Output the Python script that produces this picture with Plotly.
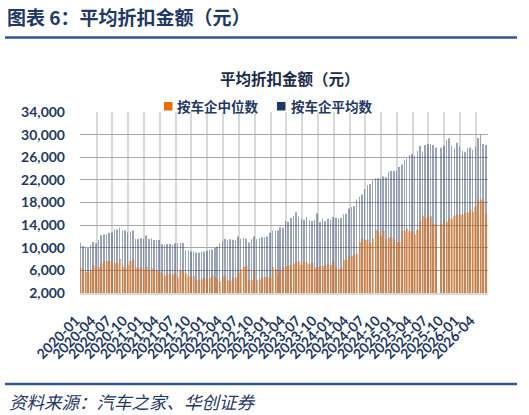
import datetime as dt
import plotly.graph_objects as go

# ---------------- data ----------------
dates = []
for yr in range(2020, 2027):
    for mo in range(1, 13):
        for dd in (1, 16):
            d = dt.date(yr, mo, dd)
            if d <= dt.date(2026, 6, 1):
                dates.append(d.isoformat())

median_vals = [
    6480, 6200, 5760, 5600, 6100, 6950, 6480, 6600, 7200, 7670,
    7670, 7610, 7200, 7310, 7200, 8030, 6700, 6480, 6950, 7670,
    7850, 6480, 6360, 6600, 6180, 6600, 5880, 6360, 6180, 6000,
    5760, 5520, 4990, 5460, 5400, 5280, 5400, 4750, 6000, 5880,
    5460, 4930, 4990, 4990, 4330, 4210, 4510, 4750, 4450, 4690,
    5160, 4810, 4450, 4090, 4930, 4930, 4210, 4210, 4750, 4690,
    5580, 6180, 6600, 6780, 4270, 4270, 6060, 4270, 4390, 4750,
    4810, 4810, 4690, 6600, 6240, 5220, 6000, 6480, 6720,
    6840, 7070, 7190, 7550, 7610, 6960, 7490, 7370, 7070, 7310,
    6540, 6540, 6780, 6780, 6960, 7070, 6960, 7670, 6600, 6180,
    6480, 7850, 7790, 8390, 8570, 8750, 8930, 10960, 11610, 11370,
    11430, 10780, 11670, 13160, 12870, 12090, 13040, 11490,
    11800, 11860, 11500, 11030, 11030, 12990, 12990, 13400, 12930, 12930,
    12330, 13170, 14710, 15670, 15190, 15610, 15550, 14180, 14180, None,
    14240, 14770, 14590, 15190, 15070, 15670, 15850, 15850, 15900, 16140,
    16260, 16740, 16380, 17270, 18520, 18520, 18280, 15960,
]

mean_vals = [
    10900, 10300, 10060, 9940, 10480, 11000, 10780, 11370, 12200, 12330,
    12390, 12630, 12690, 13220, 13220, 13520, 13040, 13040, 12690, 12870,
    13040, 11550, 11550, 11670, 11550, 12150, 11550, 11670, 11370, 11430,
    11370, 10600, 10480, 10660, 10660, 10540, 10780, 10780, 10840, 10840,
    9580, 9580, 9340, 9340, 9160, 9100, 9280, 9340, 9460, 9640,
    9700, 9940, 10180, 10780, 11130, 11550, 11370, 11490, 11430, 11370,
    11970, 11610, 11730, 11610, 10950, 11490, 11970, 11490, 11730, 11850,
    11850, 11970, 12630, 13040, 13040, 13040, 13640, 13520, 14720,
    14600, 15250, 15610, 16270, 15550, 15190, 14960, 15430, 14840, 14720,
    14840, 16090, 14540, 15130, 14720, 15130, 14960, 15430, 15310, 15190,
    15250, 15910, 16030, 16930, 17220, 17340, 18540, 19010, 19430, 20390,
    21100, 21280, 22000, 22300, 22300, 22180, 22600, 22480,
    23400, 23580, 23580, 23580, 24290, 24710, 25480, 25780, 26380, 26550,
    26260, 27090, 28040, 26970, 28160, 28280, 28340, 28160, 27740, None,
    27690, 28040, 29050, 29350, 28040, 27570, 28580, 27920, 27090, 26970,
    27570, 27690, 27270, 27860, 29400, 29930, 28300, 28170,
]

series_names = ["按车企中位数", "按车企平均数"]
y_ticks = list(range(2000, 34001, 4000))
x_ticks = [dt.date(y, m, 1).isoformat() for y in range(2020, 2027) for m in (1, 4, 7, 10)
           if dt.date(y, m, 1) <= dt.date(2026, 4, 1)]
x_ticktext = [t[:7] for t in x_ticks]

# ---------------- styling ----------------
NAVY = "#1F3864"
ORANGE = "#E46C0A"
TXT = "#1F3864"
DAY = 86400000
L, R, T, B = 80, 41, 112, 122
W, H = 529, 415
PW, PH = W - L - R, H - T - B


def px(x):
    return (x - L) / PW


def py(y):
    return (H - B - y) / PH


fig = go.Figure()
fig.add_trace(go.Bar(x=dates, y=mean_vals, name=series_names[1], showlegend=False,
                     marker=dict(color=NAVY, line=dict(width=0)), opacity=0.45,
                     width=3 * DAY, offset=-5 * DAY))
fig.add_trace(go.Bar(x=dates, y=median_vals, name=series_names[0], showlegend=False,
                     marker=dict(color=ORANGE, line=dict(width=0)), opacity=0.5,
                     width=10 * DAY, offset=-5.5 * DAY))

fig.update_layout(
    width=W, height=H, margin=dict(l=L, r=R, t=T, b=B),
    paper_bgcolor="white", plot_bgcolor="white",
    barmode="overlay", showlegend=False,
    font=dict(family="Lato, 'Noto Sans CJK SC', sans-serif", color=TXT),
)
fig.update_xaxes(
    type="date", range=["2019-12-27", "2026-06-10"],
    tickmode="array", tickvals=x_ticks, ticktext=x_ticktext, tickangle=-45,
    tickfont=dict(family="Lato, sans-serif", size=14, color=TXT, weight="bold"),
    showgrid=True, gridcolor="#D9D9D9", gridwidth=2,
    showline=True, linecolor="#D9D9D9", linewidth=2, ticks="",
    ticklabelstandoff=12, ticklabelshift=-5,
)
fig.update_yaxes(
    range=[2000, 34000], tickmode="array", tickvals=y_ticks, tickformat=",d",
    tickfont=dict(family="Lato, sans-serif", size=14, color=TXT, weight="bold"),
    showgrid=True, gridcolor="#A6A6A6", gridwidth=1.2, zeroline=False,
    showline=False, ticks="", ticklabelstandoff=14,
)

shapes = [
    dict(type="line", xref="paper", yref="paper", x0=px(5), x1=px(517), y0=py(37.5), y1=py(37.5),
         line=dict(color="#2F5597", width=2.5)),
    dict(type="line", xref="paper", yref="paper", x0=px(5), x1=px(517), y0=py(384), y1=py(384),
         line=dict(color="#2F5597", width=2.5)),
    dict(type="rect", xref="paper", yref="paper", x0=px(164), x1=px(172.5), y0=py(110.5), y1=py(102),
         fillcolor=ORANGE, line=dict(width=0)),
    dict(type="rect", xref="paper", yref="paper", x0=px(277), x1=px(285.5), y0=py(110.5), y1=py(102),
         fillcolor=NAVY, line=dict(width=0)),
]

annotations = [
    dict(text="<b>图表 6：平均折扣金额（元）</b>", xref="paper", yref="paper", x=px(5), y=py(16),
         xanchor="left", yanchor="middle", showarrow=False,
         font=dict(family="'Noto Sans CJK SC'", size=19, color=TXT)),
    dict(text="<b>平均折扣金额（元）</b>", xref="paper", yref="paper", x=px(290), y=py(77.5),
         xanchor="center", yanchor="middle", showarrow=False,
         font=dict(family="'Noto Sans CJK SC'", size=15.5, color="#1B2A48")),
    dict(text="<b>" + series_names[0] + "</b>", xref="paper", yref="paper", x=px(175), y=py(106),
         xanchor="left", yanchor="middle", showarrow=False,
         font=dict(family="'Noto Sans CJK SC'", size=13.5, color=TXT)),
    dict(text="<b>" + series_names[1] + "</b>", xref="paper", yref="paper", x=px(288.5), y=py(106),
         xanchor="left", yanchor="middle", showarrow=False,
         font=dict(family="'Noto Sans CJK SC'", size=13.5, color=TXT)),
    dict(text="资料来源：汽车之家、华创证券", xref="paper", yref="paper", x=px(7), y=py(401),
         xanchor="left", yanchor="middle", showarrow=False,
         font=dict(family="'Noto Sans CJK SC'", size=17.5, color=TXT, style="italic")),
]
fig.update_layout(shapes=shapes, annotations=annotations)

fig.write_html("out.html")
